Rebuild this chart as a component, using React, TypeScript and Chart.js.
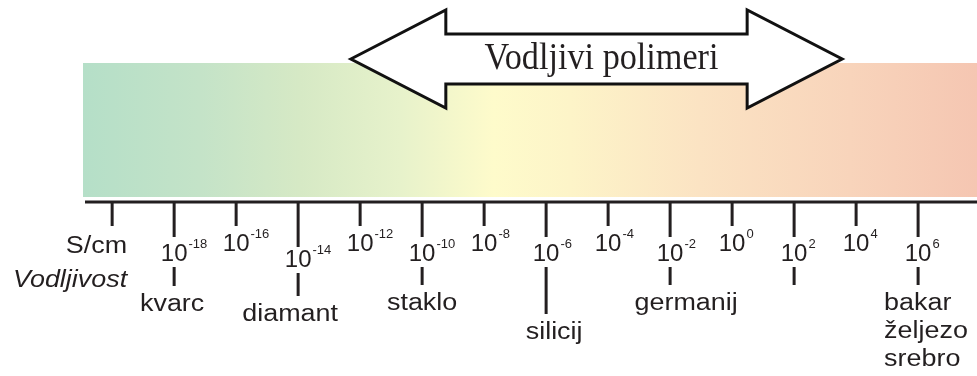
import { useEffect, useRef } from 'react';
import { Chart, registerables } from 'chart.js';

Chart.register(...registerables);

// ---- data ----
const exponents = [-18, -16, -14, -12, -10, -8, -6, -4, -2, 0, 2, 4, 6];
const unitExponent = -20;
const unitLabel = 'S/cm';
const quantityLabel = 'Vodljivost';
const materialExponents = [-18, -14, -10, -6, -2, 2, 6];
const materialNames: string[][] = [
  ['kvarc'],
  ['diamant'],
  ['staklo'],
  ['silicij'],
  ['germanij'],
  [],
  ['bakar', 'željezo', 'srebro'],
];
const polymerLabel = 'Vodljivi polimeri';
const polymerRange = [-12.3, 3.55];

// ---- styles ----
const axisRange = [-20.94, 7.9];
const bandStops: [number, string][] = [
  [0, '#b5dfc8'],
  [0.131, '#c4e3c8'],
  [0.243, '#d6e9c5'],
  [0.355, '#e7f2cb'],
  [0.459, '#fefbcb'],
  [0.545, '#fdf4c8'],
  [0.69, '#fbe3c3'],
  [0.858, '#f8d4bb'],
  [1, '#f5c6b2'],
];
const ink = '#231f20';
const tickLen = { short: 24, medium: 35, long: 45 };
const labelBase = { short: 49, medium: 59, long: 65 };
const materialTick: ('medium' | 'long')[] = ['medium', 'long', 'medium', 'medium', 'medium', 'medium', 'medium'];
const materialDrop = [19, 23, 18, 47, 18, 18, 18];
const materialDx = [-2, -8, 0, 8, 16, 0, -34];
const materialAlign = ['center', 'center', 'center', 'center', 'center', 'center', 'left'];
const SANS = '"Liberation Sans", Arial, sans-serif';
const SERIF = '"Liberation Serif", "Times New Roman", serif';

function drawText(
  ctx: CanvasRenderingContext2D,
  s: string,
  x: number,
  y: number,
  align: string,
  font: string,
  sx: number
) {
  ctx.save();
  ctx.font = font;
  const w = ctx.measureText(s).width * sx;
  const x0 = align === 'center' ? x - w / 2 : align === 'right' ? x - w : x;
  ctx.translate(x0, y);
  ctx.scale(sx, 1);
  ctx.textAlign = 'left';
  ctx.textBaseline = 'alphabetic';
  ctx.fillStyle = ink;
  ctx.fillText(s, 0, 0);
  ctx.restore();
}

const diagramPlugin = {
  id: 'conductivityDiagram',
  afterDraw(chart: any) {
    const ctx: CanvasRenderingContext2D = chart.ctx;
    const xs = chart.scales.x;
    const { top, bottom, left, right } = chart.chartArea;
    ctx.save();

    // gradient band
    const g = ctx.createLinearGradient(left, 0, right, 0);
    bandStops.forEach(([p, c]) => g.addColorStop(p, c));
    ctx.fillStyle = g;
    ctx.fillRect(left, top, right - left, bottom - top);

    // double arrow
    const L = xs.getPixelForValue(polymerRange[0]);
    const R = xs.getPixelForValue(polymerRange[1]);
    const cy = 59;
    const hh = 49;
    const sh = 25;
    const head = 95;
    ctx.beginPath();
    ctx.moveTo(L, cy);
    ctx.lineTo(L + head, cy - hh);
    ctx.lineTo(L + head, cy - sh);
    ctx.lineTo(R - head, cy - sh);
    ctx.lineTo(R - head, cy - hh);
    ctx.lineTo(R, cy);
    ctx.lineTo(R - head, cy + hh);
    ctx.lineTo(R - head, cy + sh);
    ctx.lineTo(L + head, cy + sh);
    ctx.lineTo(L + head, cy + hh);
    ctx.closePath();
    ctx.fillStyle = '#ffffff';
    ctx.fill();
    ctx.lineWidth = 3;
    ctx.lineJoin = 'miter';
    ctx.strokeStyle = '#111111';
    ctx.stroke();
    drawText(ctx, polymerLabel, (L + R) / 2 + 5, 69, 'center', `38px ${SERIF}`, 0.9);

    // axis line
    const y0 = bottom + 5;
    ctx.strokeStyle = ink;
    ctx.lineWidth = 3;
    ctx.lineCap = 'butt';
    ctx.beginPath();
    ctx.moveTo(left + 2, y0);
    ctx.lineTo(right, y0);
    ctx.stroke();

    const vline = (x: number, ya: number, yb: number) => {
      ctx.beginPath();
      ctx.moveTo(x, ya);
      ctx.lineTo(x, yb);
      ctx.stroke();
    };

    // unit column
    const ux = xs.getPixelForValue(unitExponent);
    vline(ux, y0, y0 + tickLen.short);
    drawText(ctx, unitLabel, ux + 15, y0 + 51, 'right', `23px ${SANS}`, 1.17);
    drawText(ctx, quantityLabel, ux + 15, y0 + 85, 'right', `italic 23px ${SANS}`, 1.17);

    // decade ticks
    exponents.forEach((e) => {
      const x = xs.getPixelForValue(e);
      const mi = materialExponents.indexOf(e);
      const kind = mi >= 0 ? materialTick[mi] : 'short';
      vline(x, y0, y0 + tickLen[kind]);
      const base = y0 + labelBase[kind];
      ctx.font = `24px ${SANS}`;
      const w10 = ctx.measureText('10').width;
      drawText(ctx, '10', x, base, 'center', `24px ${SANS}`, 1);
      drawText(ctx, String(e), x + w10 / 2 + 1, base - 13, 'left', `13px ${SANS}`, 1);

      if (mi >= 0) {
        const segTop = base + 6;
        const segEnd = segTop + materialDrop[mi];
        vline(x, segTop, segEnd);
        materialNames[mi].forEach((name, k) => {
          drawText(ctx, name, x + materialDx[mi], segEnd + 25 + k * 28, materialAlign[mi], `23px ${SANS}`, 1.17);
        });
      }
    });

    ctx.restore();
  },
};

export default function App() {
  const ref = useRef<HTMLCanvasElement | null>(null);
  useEffect(() => {
    if (!ref.current) return;
    const chart = new Chart(ref.current, {
      type: 'scatter',
      data: { datasets: [{ data: [] }] },
      options: {
        animation: false,
        responsive: false,
        events: [],
        layout: { padding: { left: 83, top: 63, right: 0, bottom: 179 } },
        scales: {
          x: { type: 'linear', display: false, min: axisRange[0], max: axisRange[1] },
          y: { type: 'linear', display: false, min: 0, max: 1 },
        },
        plugins: { legend: { display: false }, tooltip: { enabled: false } },
      },
      plugins: [diagramPlugin],
    });
    return () => chart.destroy();
  }, []);
  return (
    <div style={{ position: 'absolute', left: 0, top: 0, width: 977, height: 376, background: '#ffffff' }}>
      <canvas ref={ref} width={977} height={376} style={{ display: 'block', width: 977, height: 376 }} />
    </div>
  );
}
